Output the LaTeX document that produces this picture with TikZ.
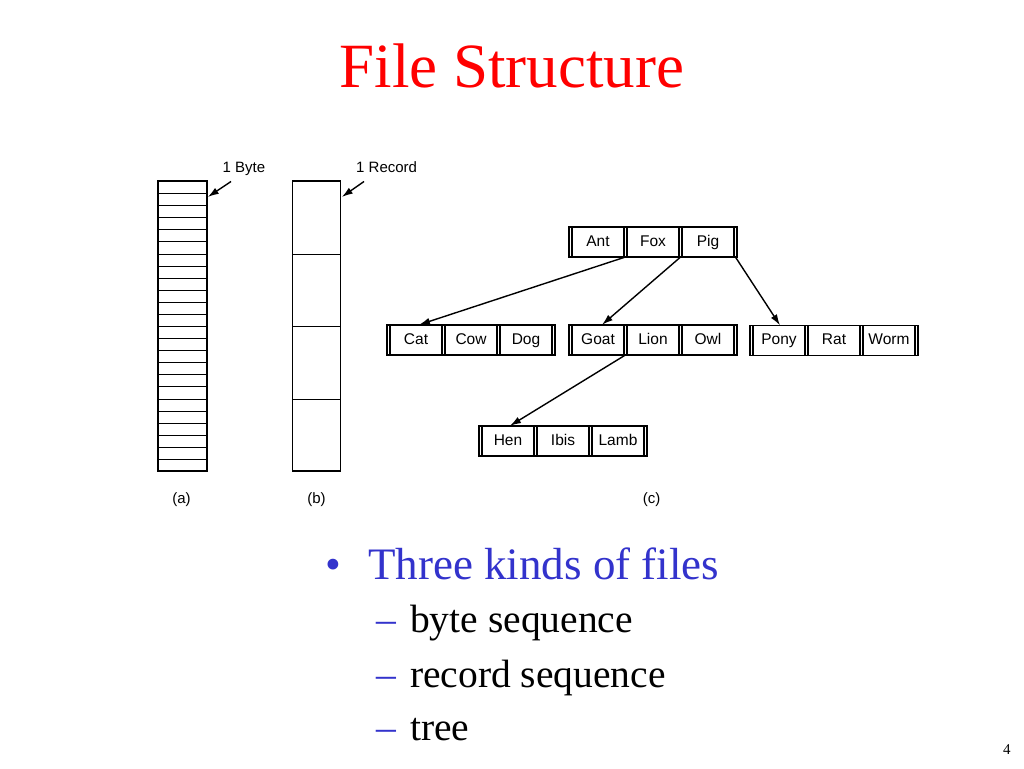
\documentclass[tikz,border=0pt]{standalone}
\usepackage{fontspec}
\setmainfont{Liberation Serif}
\newfontfamily\diagfont{Liberation Sans}
\usetikzlibrary{arrows.meta}
\definecolor{titlered}{RGB}{255,0,0}
\definecolor{bulletblue}{RGB}{51,51,204}
\tikzset{
  rec/.style={line width=1.5pt},
  keycell/.style={minimum width=52pt, minimum height=30pt, inner sep=0pt, text height=11pt, text depth=3pt, font=\diagfont\fontsize{15.5}{15.5}\selectfont},
  ptr/.style={line width=1.4pt, -{Latex[length=11pt,width=7pt]}},
  lbl/.style={font=\diagfont\fontsize{15}{15}\selectfont, inner sep=0pt},
  column/.style={draw, line width=1.6pt, inner sep=0pt, minimum width=49pt, minimum height=290pt},
  stripe/.style={line width=1.4pt},
  bigtxt/.style={inner sep=0pt, font=\fontsize{45}{45}\selectfont},
  subtxt/.style={inner sep=0pt, font=\fontsize{39.5}{40}\selectfont},
}
\newcommand{\brec}[6]{%
  \begin{scope}[shift={(#2,#3)}]
    \draw[rec] (0,0) rectangle (168,30);
    \foreach \xx in {3.2,54.8,58,110,113.2,164.8} {\draw[rec] (\xx,0) -- (\xx,30);}
    \node[keycell] (#1a) at (29,15) {#4};
    \node[keycell] (#1b) at (84,15) {#5};
    \node[keycell] (#1c) at (139,15) {#6};
    \coordinate (#1p0) at (1.5,30);
    \coordinate (#1p1) at (56.4,30);
    \coordinate (#1p2) at (111.6,30);
    \coordinate (#1p3) at (166.4,30);
  \end{scope}}
\begin{document}
\begin{tikzpicture}[x=1pt,y=-1pt]
  \useasboundingbox (0,0) rectangle (1024,768);
  \fill[white] (0,0) rectangle (1024,768);

  % title
  \node[anchor=base, inner sep=0pt, text=titlered, font=\fontsize{63}{63}\selectfont] (title) at (512,87) {File Structure};

  % (a) byte sequence
  \node[column] (colA) at (182.5,326) {};
  \foreach \i in {1,...,23} {\draw[stripe] (158,{round(181+\i*290/24)+0.5}) -- (207,{round(181+\i*290/24)+0.5});}
  \node[lbl, anchor=base west] (bytelbl) at (222.5,172.7) {1 Byte};
  \coordinate (bytefrom) at (231,181.5);
  \coordinate (byteto) at (207.8,197);
  \draw[ptr] (bytefrom) -- (byteto);
  \node[lbl] (la) at (181.5,500) {(a)};

  % (b) record sequence
  \node[column, minimum width=48pt] (colB) at (316.5,326) {};
  \foreach \i in {1,2,3} {\draw[stripe] (292.5,{round(181+\i*290/4)+0.5}) -- (340.5,{round(181+\i*290/4)+0.5});}
  \node[lbl, anchor=base west] (reclbl) at (356,172.7) {1 Record};
  \coordinate (recfrom) at (364,181.5);
  \coordinate (recto) at (341.8,197);
  \draw[ptr] (recfrom) -- (recto);
  \node[lbl] (lb) at (316.5,500) {(b)};

  % (c) tree
  \brec{root}{569}{227}{Ant}{Fox}{Pig}
  \brec{cat}{387}{325}{Cat}{Cow}{Dog}
  \brec{goat}{569}{325}{Goat}{Lion}{Owl}
  \brec{pony}{750}{325.5}{Pony}{Rat}{Worm}
  \brec{hen}{479}{426}{Hen}{Ibis}{Lamb}
  \draw[ptr] (rootp1) -- ([xshift=3pt]cata.north);
  \draw[ptr] (rootp2) -- ([xshift=4pt]goata.north);
  \draw[ptr] (rootp3) -- ([xshift=1pt]ponya.north);
  \draw[ptr] (goatp1) -- ([xshift=2pt]hena.north);
  \node[lbl] (lc) at (651.5,500) {(c)};

  % bullets
  \node[bigtxt, anchor=base, text=bulletblue] (bul) at (333,579) {•};
  \node[bigtxt, anchor=base west, text=bulletblue] (b1) at (368,579) {Three kinds of files};
  \node[subtxt, anchor=base west, text=bulletblue] (d1) at (376,632) {–};
  \node[subtxt, anchor=base west] (s1) at (410,632) {byte sequence};
  \node[subtxt, anchor=base west, text=bulletblue] (d2) at (376,687) {–};
  \node[subtxt, anchor=base west] (s2) at (410,687) {record sequence};
  \node[subtxt, anchor=base west, text=bulletblue] (d3) at (376,740) {–};
  \node[subtxt, anchor=base west] (s3) at (410,740) {tree};

  % page number
  \node[inner sep=0pt, anchor=base west, font=\fontsize{15}{15}\selectfont] (pg) at (1003,754) {4};
\end{tikzpicture}
\end{document}
